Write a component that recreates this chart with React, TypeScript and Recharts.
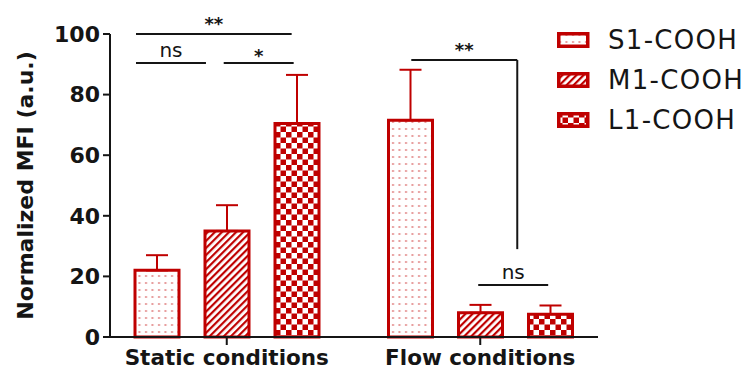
import React from 'react';
import { BarChart, Bar, XAxis, YAxis, ErrorBar, Legend, ReferenceLine } from 'recharts';

const categories = ['Static conditions', 'Flow conditions'];
const seriesNames = ['S1-COOH', 'M1-COOH', 'L1-COOH'];
const s1Values = [22, 71.5];
const m1Values = [35, 8];
const l1Values = [70.5, 7.5];
const s1Errors = [5, 16.7];
const m1Errors = [8.5, 2.6];
const l1Errors = [16, 2.9];
const yTicks = [0, 20, 40, 60, 80, 100];

// significance marks: x as a fraction of the category range (0..1 across both groups), y in data units
const brackets = [
    { x1: 0.071, x2: 0.378, y1: 100, y2: 100, text: '**' },
    { x1: 0.071, x2: 0.209, y1: 90.4, y2: 90.4, text: 'ns' },
    { x1: 0.244, x2: 0.382, y1: 90.4, y2: 90.4, text: '*' },
    { x1: 0.614, x2: 0.823, y1: 91.4, y2: 91.4, text: '**' },
    { x1: 0.823, x2: 0.823, y1: 91.4, y2: 29, text: '' },
    { x1: 0.746, x2: 0.884, y1: 17.2, y2: 17.2, text: 'ns' },
];

const data = categories.map((c, i) => ({
    category: c,
    s1: s1Values[i],
    m1: m1Values[i],
    l1: l1Values[i],
    s1Err: [0, s1Errors[i]],
    m1Err: [0, m1Errors[i]],
    l1Err: [0, l1Errors[i]],
}));

const RED = '#bf0000';
const INK = '#151515';
const FONT = '"DejaVu Sans", sans-serif';
const PAD = { left: -10, right: -9 };

const fills = ['url(#pat-dots)', 'url(#pat-diag)', 'url(#pat-check)'];

const YLabel = ({ viewBox }: any) => {
    const x = viewBox.x + 25;
    const y = viewBox.y + viewBox.height / 2;
    return (
        <text x={x} y={y} transform={`rotate(-90 ${x} ${y})`} textAnchor="middle" dominantBaseline="central"
            fontFamily={FONT} fontSize={22} fontWeight="bold" fill={INK}>
            Normalized MFI (a.u.)
        </text>
    );
};

const LegendContent = ({ payload }: any) => {
    const items = [...(payload || [])].sort(
        (a: any, b: any) => seriesNames.indexOf(a.value) - seriesNames.indexOf(b.value));
    return (
        <div style={{ width: 150 }}>
            {items.map((entry: any, i: number) => (
                <div key={entry.value} style={{ display: 'flex', alignItems: 'center', height: 40 }}>
                    <svg width={33} height={16} style={{ flex: 'none', display: 'block' }}>
                        <rect x={1.75} y={1.75} width={29} height={12.5} fill={entry.color || fills[i]} stroke={RED} strokeWidth={3.5} />
                    </svg>
                    <span style={{
                        marginLeft: 18, fontFamily: FONT, fontSize: 26, letterSpacing: 1.3, color: INK,
                        whiteSpace: 'nowrap', lineHeight: 1,
                    }}>
                        {entry.value}
                    </span>
                </div>
            ))}
        </div>
    );
};

export default function App() {
    return (
        <div style={{ position: 'absolute', left: 0, top: 0 }}>
            <BarChart width={748} height={376} data={data} margin={{ top: 34, right: 0, bottom: 9, left: 0 }}
                barSize={44} barGap={26}>
                <defs>
                    <pattern id="pat-dots" width={6.5} height={7} patternUnits="userSpaceOnUse">
                        <rect width={6.5} height={7} fill="#fff" />
                        <rect x={2} y={2} width={2} height={2} fill="#e79a9a" />
                    </pattern>
                    <pattern id="pat-diag" width={5} height={5} patternUnits="userSpaceOnUse" patternTransform="rotate(45)">
                        <rect width={5} height={5} fill="#fff" />
                        <rect width={2.2} height={5} fill={RED} />
                    </pattern>
                    <pattern id="pat-check" width={11} height={11} patternUnits="userSpaceOnUse">
                        <rect width={11} height={11} fill="#fff" />
                        <rect width={5.5} height={5.5} fill={RED} />
                        <rect x={5.5} y={5.5} width={5.5} height={5.5} fill={RED} />
                    </pattern>
                </defs>
                <XAxis dataKey="category" padding={PAD} height={30} tickSize={8} tickMargin={5}
                    axisLine={{ stroke: INK, strokeWidth: 2 }} tickLine={{ stroke: INK, strokeWidth: 2 }}
                    tick={{ fontFamily: FONT, fontSize: 21.5, fontWeight: 'bold', fill: INK }} />
                <XAxis xAxisId="band" type="number" domain={[0, 1]} allowDataOverflow hide padding={PAD} />
                <YAxis width={110} domain={[0, 100]} ticks={yTicks} tickSize={7} tickMargin={3}
                    axisLine={{ stroke: INK, strokeWidth: 2 }} tickLine={{ stroke: INK, strokeWidth: 2 }}
                    tick={{ fontFamily: FONT, fontSize: 22, fontWeight: 'bold', fill: INK }}
                    label={<YLabel />} />
                <Legend layout="vertical" align="right" verticalAlign="top"
                    wrapperStyle={{ left: 557, top: 20, width: 150 }} content={<LegendContent />} />
                <Bar dataKey="s1" name={seriesNames[0]} fill={fills[0]} stroke={RED} strokeWidth={3} isAnimationActive={false}>
                    <ErrorBar dataKey="s1Err" width={11} stroke={RED} strokeWidth={2} />
                </Bar>
                <Bar dataKey="m1" name={seriesNames[1]} fill={fills[1]} stroke={RED} strokeWidth={3} isAnimationActive={false}>
                    <ErrorBar dataKey="m1Err" width={11} stroke={RED} strokeWidth={2} />
                </Bar>
                <Bar dataKey="l1" name={seriesNames[2]} fill={fills[2]} stroke={RED} strokeWidth={3} isAnimationActive={false}>
                    <ErrorBar dataKey="l1Err" width={11} stroke={RED} strokeWidth={2} />
                </Bar>
                {brackets.map((b, i) => (
                    <ReferenceLine key={i} xAxisId="band" ifOverflow="visible"
                        segment={[{ x: b.x1, y: b.y1 }, { x: b.x2, y: b.y2 }]}
                        stroke={INK} strokeWidth={2}
                        label={b.text ? {
                            value: b.text, position: 'top', offset: b.text === 'ns' ? 6 : b.text === '**' ? 4 : 1,
                            fontFamily: FONT, fontSize: b.text === 'ns' ? 20 : 18,
                            fontWeight: b.text === 'ns' ? 'normal' : 'bold', fill: INK,
                        } : undefined} />
                ))}
            </BarChart>
        </div>
    );
}
